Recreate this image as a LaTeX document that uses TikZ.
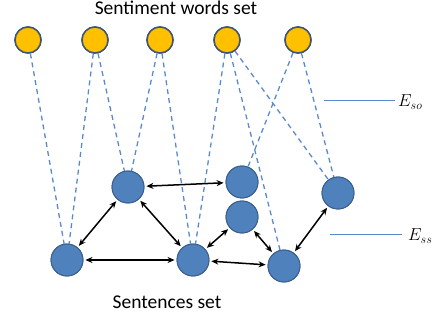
\documentclass[tikz,border=0pt]{standalone}
\usepackage{fontspec}
\setmainfont{Carlito}
\usetikzlibrary{arrows.meta}
\definecolor{wordfill}{HTML}{FFC000}
\definecolor{wordline}{HTML}{3F5573}
\definecolor{sentfill}{HTML}{4F81BD}
\definecolor{sentline}{HTML}{385D8A}
\definecolor{dashblue}{HTML}{5B8ACB}
\begin{document}
\begin{tikzpicture}[x=1pt,y=-1pt,
  word/.style={circle,fill=wordfill,draw=wordline,line width=1.5pt,minimum size=26pt,inner sep=0pt},
  sent/.style={circle,fill=sentfill,draw=sentline,line width=0.9pt,minimum size=32pt,inner sep=0pt},
  link/.style={dashblue,line width=1.3pt,dash pattern=on 5pt off 4pt},
  rel/.style={{Stealth[length=7pt,width=6pt]}-{Stealth[length=7pt,width=6pt]},line width=1.5pt,black,shorten >=2pt,shorten <=2pt},
  tag/.style={dashblue,line width=0.7pt}]
\useasboundingbox (0,0) rectangle (433,320);
% sentiment words
\node[word] (w1) at (28,40) {};
\node[word] (w2) at (95,40) {};
\node[word] (w3) at (160,40) {};
\node[word] (w4) at (227,40) {};
\node[word] (w5) at (298,40) {};
% sentences
\node[sent] (s1) at (67,260) {};
\node[sent] (s2) at (128,187) {};
\node[sent] (s3) at (193,260) {};
\node[sent] (s4) at (242,182) {};
\node[sent] (s5) at (242,217) {};
\node[sent] (s6) at (284,266) {};
\node[sent] (s7) at (338,193) {};
% word-sentence links
\draw[link] (w1) -- (s1);
\draw[link] (w2) -- (s1);
\draw[link] (w2) -- (s2);
\draw[link] (w3) -- (s2);
\draw[link] (w3) -- (s3);
\draw[link] (w4) -- (s3);
\draw[link] (w4) -- (s6);
\draw[link] (w4) -- (s7);
\draw[link] (w5) -- (s4);
\draw[link] (w5) -- (s7);
% sentence-sentence relations
\draw[rel] (s2) -- (s4);
\draw[rel] (s2) -- (s1);
\draw[rel] (s2) -- (s3);
\draw[rel] (s1) -- (s3);
\draw[rel] (s3) -- (s5);
\draw[rel] (s3) -- (s6);
\draw[rel] (s5) -- (s6);
\draw[rel] (s6) -- (s7);
% redraw nodes over the links
\foreach \n in {w1,w2,w3,w4,w5}{\node[word] at (\n) {};}
\foreach \n in {s1,s2,s3,s4,s5,s6,s7}{\node[sent] at (\n) {};}
% legend
\coordinate (eso1) at (324,100);
\coordinate (eso2) at (395,100);
\draw[tag] (eso1) -- (eso2);
\node[anchor=west,inner sep=1pt,font=\fontsize{17}{17}\selectfont] (eso) at ([shift={(2pt,-2pt)}]eso2) {$E_{so}$};
\coordinate (ess1) at (330,234);
\coordinate (ess2) at (402,234);
\draw[tag] (ess1) -- (ess2);
\node[anchor=west,inner sep=1pt,font=\fontsize{17}{17}\selectfont] (ess) at ([shift={(5pt,-2pt)}]ess2) {$E_{ss}$};
% titles
\node[font=\fontsize{19.5}{19.5}\selectfont] (top) at (176,8) {Sentiment words set};
\node[font=\fontsize{19.5}{19.5}\selectfont] (bot) at (167,302) {Sentences set};
\end{tikzpicture}
\end{document}
